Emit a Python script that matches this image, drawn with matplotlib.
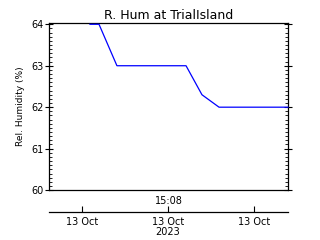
import matplotlib
matplotlib.use('Agg')
import matplotlib.pyplot as plt
import numpy as np

# time in hours on 13 Oct 2023, relative humidity (%)
hours = [6.56, 7.19, 8.44, 13.26, 14.37, 15.56, 20.37]
rhum = [64.0, 64.0, 63.0, 63.0, 62.3, 62.0, 62.0]
tick_hours = [6, 12, 18]
tick_labels = ['13 Oct', '13 Oct\n2023', '13 Oct']
xlim = (3.7, 20.37)

fig = plt.figure(figsize=(3.2, 2.4), dpi=100)
ax = fig.add_axes([0.153, 0.208, 0.747, 0.696])
ax.plot(hours, rhum, color='#0000ff', lw=0.9, clip_on=False, zorder=5)
ax.set_xlim(xlim)
ax.set_ylim(60, 64.03)
ax.set_yticks([60, 61, 62, 63, 64])
ax.set_yticks(np.arange(60, 64.01, 0.1), minor=True)
ax.set_xticks([])
ax.tick_params(axis='y', which='major', direction='inout', length=6, width=0.8,
               labelsize=7, right=True, pad=1)
ax.tick_params(axis='y', which='minor', direction='in', length=2.5, width=0.6, right=True)
for s in ax.spines.values():
    s.set_linewidth(0.9)
ax.set_title('R. Hum at TrialIsland', fontsize=9, pad=3)
ax.set_ylabel('Rel. Humidity (%)', fontsize=6.5, labelpad=4)
ax.set_xlabel('15:08', fontsize=7, labelpad=4)

# separate date axis below
ax2 = fig.add_axes([0.153, 0.115, 0.747, 0.001])
ax2.set_xlim(xlim)
ax2.set_yticks([])
for k in ['top', 'left', 'right']:
    ax2.spines[k].set_visible(False)
ax2.spines['bottom'].set_linewidth(0.9)
ax2.set_xticks(tick_hours)
ax2.set_xticklabels(tick_labels, fontsize=7, linespacing=1.0)
ax2.tick_params(axis='x', direction='in', length=4, width=0.8, pad=3)

fig.savefig('out.png', dpi=100)
